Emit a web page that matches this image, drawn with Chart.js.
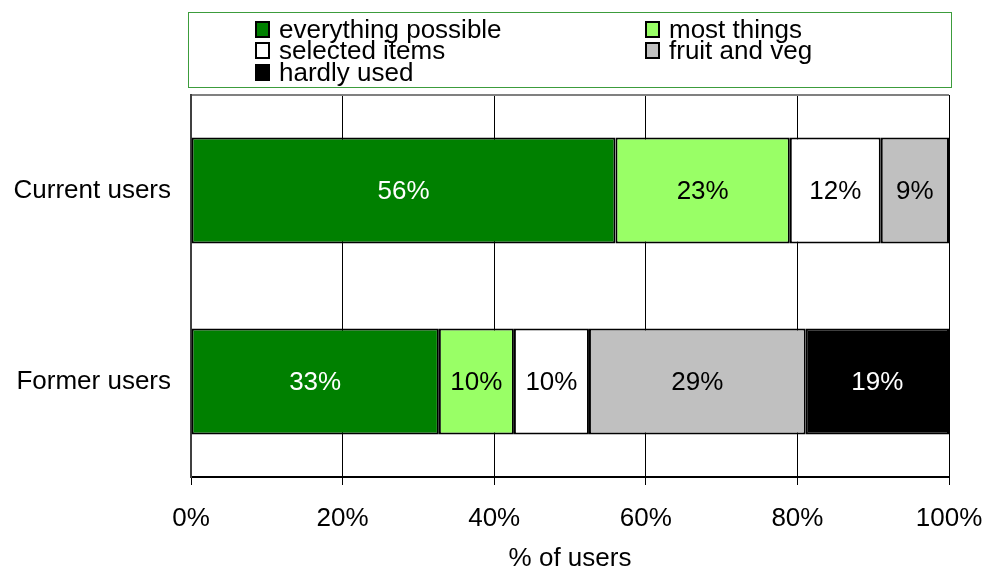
<!DOCTYPE html>
<html>
<head>
<meta charset="utf-8">
<script src="https://cdn.jsdelivr.net/npm/chart.js@4"></script>
<style>
html,body{margin:0;padding:0;background:#fff;}
#c{display:block;}
</style>
</head>
<body>
<canvas id="c" width="987" height="569"></canvas>
<script>
const categories = ["Current users", "Former users"];
const seriesNames = ["everything possible", "most things", "selected items", "fruit and veg", "hardly used"];
const everythingPossible = [56, 32.7];
const mostThings = [23, 9.9];
const selectedItems = [12, 9.9];
const fruitAndVeg = [9, 28.6];
const hardlyUsed = [0, 18.9];
const tickValues = [0, 20, 40, 60, 80, 100];
const axisTitle = "% of users";

const FONT = '"Liberation Sans", Arial, sans-serif';
const colors = ["#008000", "#99ff66", "#ffffff", "#c0c0c0", "#000000"];
const labelColors = ["#ffffff", "#000000", "#000000", "#000000", "#ffffff"];
const seriesValues = [everythingPossible, mostThings, selectedItems, fruitAndVeg, hardlyUsed];

const datasets = seriesNames.map((name, i) => ({
  label: name,
  data: seriesValues[i],
  backgroundColor: colors[i],
  borderColor: "#000000",
  borderWidth: 2,
  borderSkipped: false,
  barPercentage: 0.555,
  categoryPercentage: 1.0
}));

const labelPlugin = {
  id: "barLabels",
  afterDatasetsDraw(chart) {
    const ctx = chart.ctx;
    ctx.save();
    ctx.font = "26px " + FONT;
    ctx.textAlign = "center";
    ctx.textBaseline = "middle";
    chart.data.datasets.forEach((ds, di) => {
      const meta = chart.getDatasetMeta(di);
      meta.data.forEach((bar, j) => {
        const v = ds.data[j];
        if (!v) return;
        const p = bar.getProps(["x", "y", "base"], true);
        ctx.fillStyle = labelColors[di];
        ctx.fillText(Math.round(v) + "%", (p.x + p.base) / 2, p.y + 1);
      });
    });
    ctx.restore();
  }
};

const legendPlugin = {
  id: "boxLegend",
  afterDraw(chart) {
    const ctx = chart.ctx;
    ctx.save();
    ctx.strokeStyle = "#3c9c3c";
    ctx.lineWidth = 1;
    ctx.strokeRect(188.5, 12.5, 763, 75);
    ctx.font = "26px " + FONT;
    ctx.textAlign = "left";
    ctx.textBaseline = "alphabetic";
    const colX = [256, 646];
    const rowBase = [38, 59, 81];
    chart.data.datasets.forEach((ds, i) => {
      const cx = colX[i % 2];
      const by = rowBase[Math.floor(i / 2)];
      ctx.fillStyle = ds.backgroundColor;
      ctx.fillRect(cx, by - 16, 13, 15);
      ctx.strokeStyle = "#000";
      ctx.lineWidth = 2;
      ctx.strokeRect(cx, by - 16, 13, 15);
      ctx.fillStyle = "#000";
      ctx.fillText(ds.label, cx + 23, by);
    });
    ctx.restore();
  }
};

new Chart(document.getElementById("c"), {
  type: "bar",
  data: { labels: categories, datasets: datasets },
  options: {
    responsive: false,
    animation: false,
    indexAxis: "y",
    layout: { padding: { top: 95, right: 38, left: 0, bottom: 0 } },
    plugins: {
      legend: { display: false },
      tooltip: { enabled: false },
      title: { display: false }
    },
    scales: {
      x: {
        stacked: true,
        min: 0,
        max: 100,
        afterBuildTicks(scale) { scale.ticks = tickValues.map(v => ({ value: v })); },
        ticks: {
          callback: v => v + "%",
          color: "#000",
          font: { family: FONT, size: 26 },
          padding: 18,
          maxRotation: 0
        },
        grid: { color: "#000", lineWidth: 1, tickLength: 8, drawOnChartArea: true },
        border: { color: "#000", width: 2 },
        title: {
          display: true,
          text: axisTitle,
          color: "#000",
          font: { family: FONT, size: 26, lineHeight: 0.75 },
          padding: { top: 8, bottom: 0 }
        },
        afterFit(scale) {
          scale.height = 92;
          scale.paddingLeft = 0;
          scale.paddingRight = 0;
        }
      },
      y: {
        stacked: true,
        ticks: {
          color: "#000",
          font: { family: FONT, size: 26 },
          padding: 20
        },
        grid: {
          offset: true,
          tickLength: 0,
          color: ctx => ctx.index === 0 ? "#808080" : "rgba(0,0,0,0)",
          lineWidth: 2
        },
        border: { color: "#404040", width: 2 },
        afterFit(scale) {
          scale.width = 191;
          scale.paddingTop = 0;
          scale.paddingBottom = 0;
        }
      }
    }
  },
  plugins: [labelPlugin, legendPlugin]
});
</script>
</body>
</html>
